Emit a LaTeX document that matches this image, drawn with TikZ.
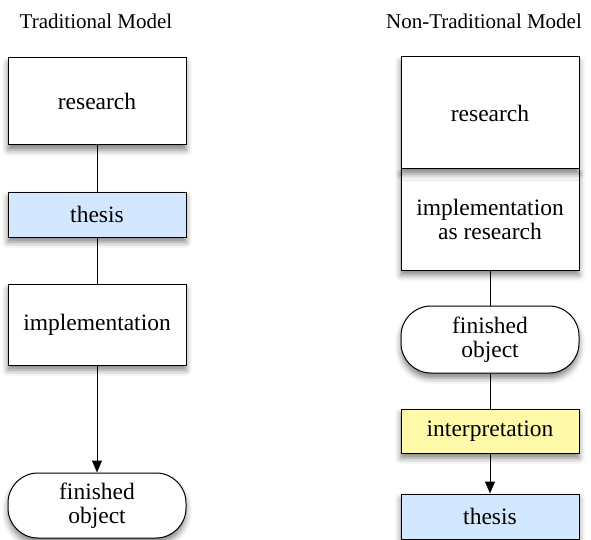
\documentclass[tikz,border=0pt]{standalone}
\usepackage{fontspec}
\setmainfont{Liberation Serif}
\usepackage{xcolor}
\usetikzlibrary{arrows.meta,shadows.blur}
\definecolor{thesisblau}{RGB}{211,231,255}
\definecolor{deutunggelb}{RGB}{255,250,170}

\begin{document}
\begin{tikzpicture}[x=1pt,y=-1pt,
  kasten/.style={draw=black,line width=1pt,fill=white,minimum width=178pt,inner sep=2pt,align=center,
    font=\fontsize{23.5}{24}\selectfont,
    blur shadow={shadow xshift=0pt,shadow yshift=-5pt,shadow blur radius=6pt,shadow opacity=50}},
  rund/.style={kasten,rounded corners=30pt},
  titel/.style={inner sep=0pt,anchor=base,font=\fontsize{21}{24}\selectfont},
  linie/.style={line width=1pt},
  pfeil/.style={linie,-{Triangle[width=10pt,length=12pt]}}]
\useasboundingbox (0,0) rectangle (591,540);
%Links: traditionelles Modell
\node[titel] (ltitel) at (96,29) {Traditional Model};
\node[kasten,minimum height=87pt] (lres) at (97,101.5) {research};
\node[kasten,minimum height=45pt,fill=thesisblau] (lthes) at (97,214.5) {thesis};
\node[kasten,minimum height=81pt] (limpl) at (97,324.5) {implementation};
\node[rund,minimum height=65pt] (lobj) at (97,505.5) {finished\\object};
\draw[linie] (lres) -- (lthes);
\draw[linie] (lthes) -- (limpl);
\draw[pfeil] (limpl) -- (lobj);
%Rechts: nicht-traditionelles Modell (unterer Kasten zuerst, damit der Schatten oben drauf liegt)
\node[titel] (rtitel) at (484,29) {Non-Traditional Model};
\node[kasten,minimum height=101pt] (rimpl) at (490,219.5) {implementation\\as research};
\node[kasten,minimum height=112pt] (rres) at (490,113) {research};
\node[rund,minimum height=67pt] (robj) at (490,339.5) {finished\\object};
\node[kasten,minimum height=44pt,fill=deutunggelb] (rdeut) at (490,431) {interpretation};
\node[kasten,minimum height=45pt,fill=thesisblau] (rthes) at (490,516.5) {thesis};
\draw[linie] (rimpl) -- (robj);
\draw[linie] (robj) -- (rdeut);
\draw[pfeil] (rdeut) -- (rthes);
\end{tikzpicture}
\end{document}
